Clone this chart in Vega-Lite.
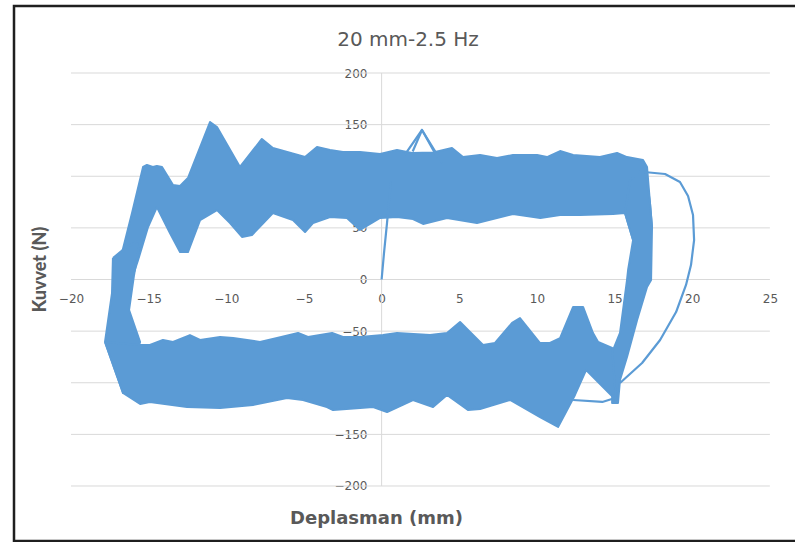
{
  "$schema": "https://vega.github.io/schema/vega-lite/v6.json",
  "width": 784,
  "height": 535,
  "autosize": {"type": "none"},
  "padding": {"left": 14, "top": 6, "right": -3, "bottom": 1},
  "background": "white",
  "config": {"view": {"stroke": "#1f1f1f", "strokeWidth": 2.5}, "font": "DejaVu Sans"},
  "title": {"text": "20 mm-2.5 Hz", "frame": "group", "anchor": "middle", "offset": -39, "dy": 21, "baseline": "alphabetic", "dx": 2, "fontSize": 20, "font": "DejaVu Sans", "fontWeight": "normal", "color": "#595959"},
  "datasets": {
    "grid": [{"v": -200}, {"v": -150}, {"v": -100}, {"v": -50}, {"v": 0}, {"v": 50}, {"v": 100}, {"v": 150}, {"v": 200}],
    "polys": [
      {"s": "U", "i": 0, "x": -17.30, "y": 18.9}, {"s": "U", "i": 1, "x": -16.72, "y": 25.7}, {"s": "U", "i": 2, "x": -16.07, "y": 64.4}, {"s": "U", "i": 3, "x": -15.36, "y": 109.0}, {"s": "U", "i": 4, "x": -15.11, "y": 110.9}, {"s": "U", "i": 5, "x": -14.73, "y": 109.0}, {"s": "U", "i": 6, "x": -14.47, "y": 110.0}, {"s": "U", "i": 7, "x": -14.14, "y": 109.0}, {"s": "U", "i": 8, "x": -13.43, "y": 91.5}, {"s": "U", "i": 9, "x": -12.98, "y": 90.6}, {"s": "U", "i": 10, "x": -12.47, "y": 98.3}, {"s": "U", "i": 11, "x": -11.05, "y": 152.5}, {"s": "U", "i": 12, "x": -10.60, "y": 147.7}, {"s": "U", "i": 13, "x": -9.12, "y": 109.0}, {"s": "U", "i": 14, "x": -7.71, "y": 136.1}, {"s": "U", "i": 15, "x": -7.00, "y": 127.4}, {"s": "U", "i": 16, "x": -4.93, "y": 118.6}, {"s": "U", "i": 17, "x": -4.16, "y": 128.3}, {"s": "U", "i": 18, "x": -3.32, "y": 125.4}, {"s": "U", "i": 19, "x": -2.49, "y": 123.5}, {"s": "U", "i": 20, "x": -1.39, "y": 123.5}, {"s": "U", "i": 21, "x": -0.10, "y": 121.5}, {"s": "U", "i": 22, "x": 0.99, "y": 125.4}, {"s": "U", "i": 23, "x": 1.96, "y": 122.5}, {"s": "U", "i": 24, "x": 3.31, "y": 123.0}, {"s": "U", "i": 25, "x": 4.53, "y": 127.4}, {"s": "U", "i": 26, "x": 5.24, "y": 118.6}, {"s": "U", "i": 27, "x": 6.34, "y": 120.6}, {"s": "U", "i": 28, "x": 7.43, "y": 117.6}, {"s": "U", "i": 29, "x": 8.46, "y": 120.6}, {"s": "U", "i": 30, "x": 10.01, "y": 120.6}, {"s": "U", "i": 31, "x": 10.65, "y": 118.6}, {"s": "U", "i": 32, "x": 11.49, "y": 124.4}, {"s": "U", "i": 33, "x": 12.33, "y": 120.6}, {"s": "U", "i": 34, "x": 14.06, "y": 118.6}, {"s": "U", "i": 35, "x": 15.16, "y": 122.5}, {"s": "U", "i": 36, "x": 15.80, "y": 118.6}, {"s": "U", "i": 37, "x": 16.83, "y": 115.7}, {"s": "U", "i": 38, "x": 17.09, "y": 108.9}, {"s": "U", "i": 39, "x": 17.28, "y": 74.1}, {"s": "U", "i": 40, "x": 17.41, "y": 50.8}, {"s": "U", "i": 41, "x": 16.19, "y": 38.2}, {"s": "U", "i": 42, "x": 15.67, "y": 64.4}, {"s": "U", "i": 43, "x": 14.90, "y": 63.4}, {"s": "U", "i": 44, "x": 12.78, "y": 62.5}, {"s": "U", "i": 45, "x": 11.49, "y": 62.5}, {"s": "U", "i": 46, "x": 10.22, "y": 59.6}, {"s": "U", "i": 47, "x": 8.46, "y": 63.4}, {"s": "U", "i": 48, "x": 6.14, "y": 54.7}, {"s": "U", "i": 49, "x": 4.21, "y": 59.6}, {"s": "U", "i": 50, "x": 2.67, "y": 53.8}, {"s": "U", "i": 51, "x": 2.02, "y": 58.6}, {"s": "U", "i": 52, "x": 0.99, "y": 60.5}, {"s": "U", "i": 53, "x": -0.10, "y": 59.6}, {"s": "U", "i": 54, "x": -1.39, "y": 48.0}, {"s": "U", "i": 55, "x": -2.23, "y": 59.6}, {"s": "U", "i": 56, "x": -3.32, "y": 60.5}, {"s": "U", "i": 57, "x": -4.42, "y": 54.7}, {"s": "U", "i": 58, "x": -4.93, "y": 46.0}, {"s": "U", "i": 59, "x": -5.71, "y": 57.6}, {"s": "U", "i": 60, "x": -7.00, "y": 64.4}, {"s": "U", "i": 61, "x": -8.35, "y": 43.1}, {"s": "U", "i": 62, "x": -8.99, "y": 41.2}, {"s": "U", "i": 63, "x": -9.76, "y": 54.7}, {"s": "U", "i": 64, "x": -10.60, "y": 67.3}, {"s": "U", "i": 65, "x": -11.69, "y": 57.6}, {"s": "U", "i": 66, "x": -12.47, "y": 26.6}, {"s": "U", "i": 67, "x": -12.98, "y": 26.6}, {"s": "U", "i": 68, "x": -13.63, "y": 45.0}, {"s": "U", "i": 69, "x": -14.47, "y": 70.2}, {"s": "U", "i": 70, "x": -15.04, "y": 50.8}, {"s": "U", "i": 71, "x": -15.68, "y": 18.9}, {"s": "U", "i": 72, "x": -16.00, "y": 4.4}, {"s": "U", "i": 73, "x": -17.30, "y": 18.9},
      {"s": "L", "i": 0, "x": -17.30, "y": 20.8}, {"s": "L", "i": 1, "x": -16.52, "y": 30.5}, {"s": "L", "i": 2, "x": -15.55, "y": 38.2}, {"s": "L", "i": 3, "x": -15.94, "y": 4.4}, {"s": "L", "i": 4, "x": -16.26, "y": -29.5}, {"s": "L", "i": 5, "x": -15.55, "y": -60.5}, {"s": "L", "i": 6, "x": -16.65, "y": -109.9}, {"s": "L", "i": 7, "x": -17.81, "y": -60.5}, {"s": "L", "i": 8, "x": -17.36, "y": -13.1}, {"s": "L", "i": 9, "x": -17.30, "y": 20.8},
      {"s": "R", "i": 0, "x": 16.96, "y": 109.0}, {"s": "R", "i": 1, "x": 17.28, "y": 74.1}, {"s": "R", "i": 2, "x": 17.41, "y": 50.8}, {"s": "R", "i": 3, "x": 17.35, "y": -0.5}, {"s": "R", "i": 4, "x": 17.09, "y": -7.3}, {"s": "R", "i": 5, "x": 16.45, "y": -39.2}, {"s": "R", "i": 6, "x": 15.80, "y": -75.1}, {"s": "R", "i": 7, "x": 15.35, "y": -97.3}, {"s": "R", "i": 8, "x": 15.22, "y": -119.6}, {"s": "R", "i": 9, "x": 14.84, "y": -119.6}, {"s": "R", "i": 10, "x": 14.90, "y": -68.3}, {"s": "R", "i": 11, "x": 15.35, "y": -51.8}, {"s": "R", "i": 12, "x": 15.80, "y": -0.5}, {"s": "R", "i": 13, "x": 15.87, "y": 9.2}, {"s": "R", "i": 14, "x": 16.19, "y": 38.2}, {"s": "R", "i": 15, "x": 15.67, "y": 64.4}, {"s": "R", "i": 16, "x": 16.0, "y": 96.4}, {"s": "R", "i": 17, "x": 16.96, "y": 109.0},
      {"s": "D", "i": 0, "x": -17.81, "y": -60.5}, {"s": "D", "i": 1, "x": -15.55, "y": -63.4}, {"s": "D", "i": 2, "x": -14.92, "y": -63.4}, {"s": "D", "i": 3, "x": -14.08, "y": -58.6}, {"s": "D", "i": 4, "x": -13.43, "y": -60.5}, {"s": "D", "i": 5, "x": -12.34, "y": -53.8}, {"s": "D", "i": 6, "x": -11.69, "y": -58.6}, {"s": "D", "i": 7, "x": -10.40, "y": -55.7}, {"s": "D", "i": 8, "x": -9.56, "y": -56.7}, {"s": "D", "i": 9, "x": -7.83, "y": -60.5}, {"s": "D", "i": 10, "x": -6.73, "y": -56.7}, {"s": "D", "i": 11, "x": -5.38, "y": -51.8}, {"s": "D", "i": 12, "x": -4.74, "y": -55.7}, {"s": "D", "i": 13, "x": -3.19, "y": -51.8}, {"s": "D", "i": 14, "x": -2.49, "y": -55.7}, {"s": "D", "i": 15, "x": -1.39, "y": -55.7}, {"s": "D", "i": 16, "x": 0.09, "y": -53.8}, {"s": "D", "i": 17, "x": 0.99, "y": -51.8}, {"s": "D", "i": 18, "x": 3.12, "y": -53.8}, {"s": "D", "i": 19, "x": 4.21, "y": -51.8}, {"s": "D", "i": 20, "x": 5.05, "y": -41.2}, {"s": "D", "i": 21, "x": 6.53, "y": -63.4}, {"s": "D", "i": 22, "x": 7.30, "y": -61.5}, {"s": "D", "i": 23, "x": 8.40, "y": -42.1}, {"s": "D", "i": 24, "x": 8.91, "y": -37.3}, {"s": "D", "i": 25, "x": 10.20, "y": -61.5}, {"s": "D", "i": 26, "x": 10.84, "y": -61.5}, {"s": "D", "i": 27, "x": 11.49, "y": -56.7}, {"s": "D", "i": 28, "x": 12.33, "y": -26.6}, {"s": "D", "i": 29, "x": 12.97, "y": -26.6}, {"s": "D", "i": 30, "x": 13.61, "y": -51.8}, {"s": "D", "i": 31, "x": 13.94, "y": -60.5}, {"s": "D", "i": 32, "x": 14.84, "y": -66.3}, {"s": "D", "i": 33, "x": 15.09, "y": -116.7}, {"s": "D", "i": 34, "x": 13.17, "y": -87.6}, {"s": "D", "i": 35, "x": 12.45, "y": -111.8}, {"s": "D", "i": 36, "x": 11.36, "y": -142.8}, {"s": "D", "i": 37, "x": 10.20, "y": -133.2}, {"s": "D", "i": 38, "x": 8.27, "y": -116.7}, {"s": "D", "i": 39, "x": 6.34, "y": -125.4}, {"s": "D", "i": 40, "x": 5.56, "y": -126.4}, {"s": "D", "i": 41, "x": 4.21, "y": -111.8}, {"s": "D", "i": 42, "x": 3.31, "y": -123.5}, {"s": "D", "i": 43, "x": 2.02, "y": -116.7}, {"s": "D", "i": 44, "x": 0.35, "y": -128.3}, {"s": "D", "i": 45, "x": -0.55, "y": -123.5}, {"s": "D", "i": 46, "x": -1.39, "y": -124.5}, {"s": "D", "i": 47, "x": -3.13, "y": -126.4}, {"s": "D", "i": 48, "x": -3.52, "y": -123.5}, {"s": "D", "i": 49, "x": -5.06, "y": -116.7}, {"s": "D", "i": 50, "x": -6.09, "y": -114.7}, {"s": "D", "i": 51, "x": -8.28, "y": -121.5}, {"s": "D", "i": 52, "x": -10.40, "y": -124.5}, {"s": "D", "i": 53, "x": -12.53, "y": -123.5}, {"s": "D", "i": 54, "x": -14.92, "y": -118.6}, {"s": "D", "i": 55, "x": -15.55, "y": -120.5}, {"s": "D", "i": 56, "x": -16.65, "y": -109.9}, {"s": "D", "i": 57, "x": -17.81, "y": -60.5}
    ],
    "lines": [
      {"s": "spike", "i": 0, "x": 1.5, "y": 121.0}, {"s": "spike", "i": 1, "x": 2.6, "y": 144.8}, {"s": "spike", "i": 2, "x": 3.6, "y": 118.0},
      {"s": "spike2", "i": 0, "x": 2.0, "y": 124.0}, {"s": "spike2", "i": 1, "x": 2.6, "y": 144.8}, {"s": "spike2", "i": 2, "x": 3.9, "y": 113.0},
      {"s": "notch", "i": 0, "x": 12.33, "y": -116.7}, {"s": "notch", "i": 1, "x": 14.21, "y": -118.6}, {"s": "notch", "i": 2, "x": 15.03, "y": -114.7},
      {"s": "outer", "i": 0, "x": 16.9, "y": 104.1}, {"s": "outer", "i": 1, "x": 18.25, "y": 102.2}, {"s": "outer", "i": 2, "x": 19.21, "y": 94.4}, {"s": "outer", "i": 3, "x": 19.73, "y": 80.9}, {"s": "outer", "i": 4, "x": 20.05, "y": 62.5}, {"s": "outer", "i": 5, "x": 20.12, "y": 38.2}, {"s": "outer", "i": 6, "x": 19.92, "y": 14.0}, {"s": "outer", "i": 7, "x": 19.60, "y": -5.3}, {"s": "outer", "i": 8, "x": 18.96, "y": -31.5}, {"s": "outer", "i": 9, "x": 17.93, "y": -58.6}, {"s": "outer", "i": 10, "x": 16.77, "y": -80.9}, {"s": "outer", "i": 11, "x": 15.35, "y": -100.2},
      {"s": "init", "i": 0, "x": 0.0, "y": 0.0}, {"s": "init", "i": 1, "x": 0.15, "y": 25.0}, {"s": "init", "i": 2, "x": 0.35, "y": 55.0}, {"s": "init", "i": 3, "x": 0.6, "y": 95.0}
    ]
  },
  "layer": [
    {
      "data": {"name": "grid"},
      "mark": {"type": "rule", "color": "#d9d9d9", "strokeWidth": 1},
      "encoding": {
        "y": {"field": "v", "type": "quantitative", "scale": {"domain": [-253.27, 264.9], "nice": false, "zero": false}},
        "x": {"datum": -20, "type": "quantitative", "scale": {"domain": [-23.67, 26.81], "nice": false, "zero": false}},
        "x2": {"datum": 25}
      }
    },
    {
      "data": {"values": [{"a": 0}]},
      "mark": {"type": "rule", "color": "#d9d9d9", "strokeWidth": 1},
      "encoding": {
        "x": {"datum": 0, "type": "quantitative"},
        "y": {"datum": -200, "type": "quantitative"},
        "y2": {"datum": 200}
      }
    },
    {
      "data": {"name": "polys"},
      "mark": {"type": "line", "color": "#5b9bd5", "fill": "#5b9bd5", "strokeWidth": 2, "strokeJoin": "round", "clip": false},
      "encoding": {
        "x": {"field": "x", "type": "quantitative", "scale": {"domain": [-23.67, 26.81], "nice": false, "zero": false},
          "axis": {"values": [-20, -15, -10, -5, 0, 5, 10, 15, 20, 25], "grid": false, "domain": false, "ticks": false, "tickSize": 0, "offset": -261.5, "labelPadding": 14, "labelFontSize": 12, "labelFont": "DejaVu Sans", "labelColor": "#595959", "labelFlush": false, "labelOverlap": false, "title": "Deplasman (mm)", "titleFont": "DejaVu Sans", "titleFontSize": 18, "titleFontWeight": "bold", "titleColor": "#595959", "titleX": 362, "titleY": 243.5, "titleBaseline": "alphabetic", "titleAlign": "center"}},
        "y": {"field": "y", "type": "quantitative", "scale": {"domain": [-253.27, 264.9], "nice": false, "zero": false},
          "axis": {"values": [-200, -150, -100, -50, 0, 50, 100, 150, 200], "grid": false, "domain": false, "ticks": false, "tickSize": 0, "offset": -367.6, "labelPadding": 14.6, "labelFontSize": 12, "labelFont": "DejaVu Sans", "labelColor": "#595959", "labelFlush": false, "labelOverlap": false, "title": "Kuvvet (N)", "titleFont": "Lato", "titleFontSize": 18, "titleFontWeight": 900, "titleColor": "#595959", "titleX": -336.6, "titleY": 263, "titleAngle": -90, "titleBaseline": "alphabetic", "titleAlign": "center"}},
        "detail": {"field": "s"},
        "order": {"field": "i", "type": "quantitative"}
      }
    },
    {
      "data": {"name": "lines"},
      "mark": {"type": "line", "color": "#5b9bd5", "strokeWidth": 2.2, "strokeJoin": "round", "clip": false},
      "encoding": {
        "x": {"field": "x", "type": "quantitative"},
        "y": {"field": "y", "type": "quantitative"},
        "detail": {"field": "s"},
        "order": {"field": "i", "type": "quantitative"}
      }
    }
  ]
}
